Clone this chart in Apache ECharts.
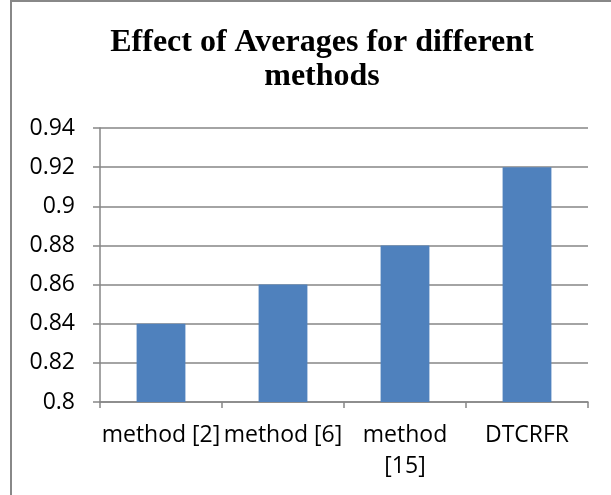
<!DOCTYPE html>
<html><head><meta charset="utf-8">
<script src="https://cdn.jsdelivr.net/npm/echarts@6/dist/echarts.min.js"></script>
<style>
html,body{margin:0;padding:0;background:#fff;}
#frame{position:absolute;left:10px;top:0;width:601px;height:495px;border-left:2px solid #888;border-top:2px solid #888;box-sizing:border-box;}
#c{position:absolute;left:0;top:0;width:611px;height:495px;}
</style></head>
<body>
<div id="frame"></div>
<div id="c"></div>
<script>
const categories = ['method [2]', 'method [6]', 'method\n[15]', 'DTCRFR'];
const values = [0.84, 0.86, 0.88, 0.92];
const yMin = 0.8, yMax = 0.94, yStep = 0.02;

const chart = echarts.init(document.getElementById('c'));
chart.setOption({
  animation: false,
  title: {
    text: 'Effect of Averages for different\nmethods',
    left: 317, top: 21, textAlign: 'center',
    textStyle: {fontFamily: 'Liberation Serif', fontWeight: 'bold', fontSize: 32, color: '#000', lineHeight: 34}
  },
  grid: {left: 100, right: 23, top: 128, bottom: 93, containLabel: false},
  xAxis: {
    type: 'category', data: categories,
    axisLine: {lineStyle: {color: '#868686', width: 1.5}},
    axisTick: {show: true, length: 6, lineStyle: {color: '#868686', width: 1.5}},
    axisLabel: {fontFamily: 'Open Sans', fontSize: 23, color: '#000', margin: 18, lineHeight: 31, interval: 0}
  },
  yAxis: {
    type: 'value', min: yMin, max: yMax, interval: yStep,
    axisLine: {show: true, lineStyle: {color: '#868686', width: 1.5}},
    axisTick: {show: true, length: 7, lineStyle: {color: '#868686', width: 1.5}},
    splitLine: {lineStyle: {color: '#868686', width: 1.5}},
    axisLabel: {fontFamily: 'Open Sans', fontSize: 23, color: '#000', margin: 25,
      formatter: v => String(parseFloat(v.toFixed(2)))}
  },
  series: [{
    type: 'bar', data: values, barWidth: '40%',
    itemStyle: {color: '#4F81BD'}
  }]
});
</script>
</body></html>
